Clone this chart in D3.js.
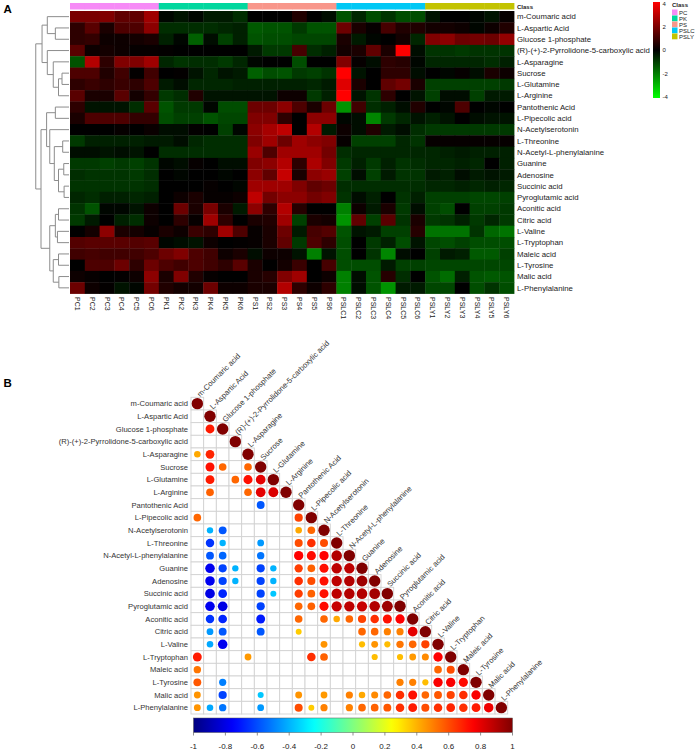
<!DOCTYPE html>
<html><head><meta charset="utf-8">
<script src="https://cdn.jsdelivr.net/npm/d3@7"></script>
<style>body{margin:0;background:#fff;} text{font-family:"Liberation Sans",Arial,sans-serif;}</style>
</head><body><svg id="c" width="700" height="752"></svg>
<script>
const metabolites = ["m-Coumaric acid","L-Aspartic Acid","Glucose 1-phosphate","(R)-(+)-2-Pyrrolidone-5-carboxylic acid","L-Asparagine","Sucrose","L-Glutamine","L-Arginine","Pantothenic Acid","L-Pipecolic acid","N-Acetylserotonin","L-Threonine","N-Acetyl-L-phenylalanine","Guanine","Adenosine","Succinic acid","Pyroglutamic acid","Aconitic acid","Citric acid","L-Valine","L-Tryptophan","Maleic acid","L-Tyrosine","Malic acid","L-Phenylalanine"];
const samples = ["PC1","PC2","PC3","PC4","PC5","PC6","PK1","PK2","PK3","PK4","PK5","PK6","PS1","PS2","PS3","PS4","PS5","PS6","PSLC1","PSLC2","PSLC3","PSLC4","PSLC5","PSLC6","PSLY1","PSLY2","PSLY3","PSLY4","PSLY5","PSLY6"];
const classes = ["PC","PK","PS","PSLC","PSLY"];
const classColors = ["#f68af6","#00d79e","#f8968a","#00c8f5","#c3c300"];
const heatTicks = [4,2,0,-2,-4];
const corrTicks = [-1,-0.8,-0.6,-0.4,-0.2,0,0.2,0.4,0.6,0.8,1];

// z-scored abundance, rows = metabolites, cols = samples
const heatValues = [
[1.9,1.9,2.0,1.5,1.5,2.5, -0.1,-0.3,-0.1,-0.4,-0.4,-0.7, 0,0,0,0.5,0,-0.2, -1.3,-0.6,-1.2,-0.8,-1.2,-1.2, -0.3,0,0,-0.1,-0.3,0.1],
[0.7,1.4,0.4,1.2,1.2,2.2, -0.7,-0.7,-0.7,-0.7,-0.6,-0.5, -1.4,-1.3,-1.3,-0.9,-1.3,-1.3, 1.7,0.4,0.1,1.1,0.5,0.5, 0.3,0.3,0.2,-0.1,0.2,0.5],
[0.7,0.8,0.2,0.2,0.3,0.4, -0.5,-0.1,-1.5,-0.2,-1.0,-0.5, -1.3,-1.2,-1.2,-1.1,-1.1,-1.1, 0.4,-0.4,-0.1,0,0.3,-0.6, 2.0,2.2,1.7,1.8,1.7,2.3],
[1.4,0.2,0.3,0.2,0.1,0.1, 0.05,0,0,0,0,0, -0.4,-0.9,-0.9,1.1,-0.7,-0.5, 0.3,0.4,1.5,0.4,4.0,-0.2, -0.8,-0.8,-0.9,-0.8,-0.8,-0.8],
[-1.3,2.8,0.7,2.0,2.0,2.5, -0.6,-0.8,-0.7,-0.7,-0.9,-0.6, -0.1,0,0,-1.2,0,0, 2.0,0.1,-0.2,0.7,0.6,-0.1, -0.6,-0.6,-0.6,-0.6,-0.7,-0.5],
[1.2,1.2,0.5,1.0,0.05,1.0, 0,0.05,-0.3,-0.6,-0.3,-0.4, -1.5,-1.2,-1.3,-0.9,-1.0,-0.8, 4.0,-0.3,0,0.7,0.7,-0.2, 0,-0.1,0.1,-0.2,0.4,0.2],
[0.7,0.9,0.7,0.9,0.7,1.2, -0.4,-0.2,-0.6,-0.6,-0.6,-0.5, -0.5,-0.5,-0.5,-0.5,-0.6,-0.4, 3.5,0.4,0,1.5,1.8,0.4, -1.0,-1.0,-1.0,-1.0,-1.0,-0.9],
[1.4,0.4,0.4,1.4,0.3,0.8, -0.9,-0.7,0.5,-0.3,-0.3,-0.3, -0.3,-0.3,0.2,0.2,-0.9,-0.5, 4.0,-0.3,-0.8,0.7,0,-0.3, -1.0,-0.2,-0.2,-1.0,-0.4,-0.4],
[0.7,-0.3,-0.3,-0.3,-0.7,1.4, -1.3,-0.9,-0.9,-0.1,-1.2,-1.2, 1.7,1.7,2.2,1.2,0.4,1.7, -2.3,1.0,-0.7,-0.5,-0.2,0.5, 0,-0.1,1.2,0,-0.1,0],
[0.4,1.2,1.2,1.2,0.8,0.8, -1.2,-1.0,-1.0,-1.3,-1.1,-1.1, 2.0,2.0,0.7,0,2.2,2.2, -0.1,-0.2,-2.1,-0.9,-0.6,-0.3, -0.5,-0.3,0,-0.2,-0.3,-0.3],
[0,0,0,0.1,0,0.15, -0.2,-0.2,0.05,0,-1.0,-0.1, 2.2,2.6,3.0,0,2.8,-0.4, 0.2,-0.2,0.5,-0.4,-0.2,-0.7, -0.9,-0.9,-0.9,-0.9,-0.9,-0.9],
[-0.9,-0.5,-0.5,-0.5,-0.5,-0.4, -0.4,-0.2,-0.6,-0.7,-0.7,-0.7, 2.0,2.5,1.7,2.5,2.2,2.0, 0.1,-1.0,-1.0,-1.0,-0.6,-0.8, 0.1,0.1,0.1,0.1,0.1,0.1],
[-0.2,-0.2,-0.3,-0.2,-0.3,0, -0.7,-0.7,-0.7,-0.7,-0.7,-0.7, 2.4,1.2,2.5,2.5,2.5,1.8, -0.7,-0.6,-0.6,-0.6,-0.6,-0.6, -0.6,-0.5,-0.4,-0.5,-0.5,-0.5],
[-0.9,-0.9,-1.0,-0.9,-1.0,-0.8, -0.1,-0.2,0.1,0,-0.2,-0.2, 2.0,2.2,2.8,0.7,2.7,2.0, -0.9,-0.5,-0.9,-0.5,-0.8,-0.7, -0.6,-0.6,-0.5,-0.6,0,-0.5],
[-0.7,-0.8,-0.8,-0.8,-0.9,-0.7, 0,-0.1,0,0,-0.1,0, 2.2,1.5,3.1,0.4,2.2,2.4, -1.0,-0.2,-1.0,-0.4,-0.8,-0.8, -0.4,-0.5,-0.2,-0.4,-0.3,-0.4],
[-0.8,-0.8,-0.8,-0.8,-0.8,-0.7, 0,0,0,0.1,0,-0.1, 2.5,2.5,2.5,2.0,1.5,1.7, -0.7,-0.7,-0.7,-0.7,-0.7,-0.7, -0.6,-0.6,-0.5,-0.6,-0.5,-0.6],
[-0.6,-0.7,-0.5,-0.5,-0.6,-0.5, 0,0.2,0.4,0.1,0.1,0.2, 3.0,1.8,2.2,2.2,1.8,2.0, -0.8,-0.2,-0.5,0,-0.8,-0.5, -1.0,-1.0,-1.0,-1.1,-1.1,-1.0],
[-0.8,-1.3,-0.1,-0.1,-0.3,0.2, 0,1.7,0.4,1.9,0.4,-0.4, 2.2,0.7,2.8,0.6,0,0, -2.0,0.2,-0.4,0.4,-0.9,-0.2, -1.0,-1.2,0,-1.0,-1.0,-0.9],
[-0.9,-0.4,0,-0.5,-0.7,0.2, 0,0.7,0.1,2.5,0.7,0, 0.4,0.5,2.5,-1.0,0.4,0.3, -2.3,1.5,-1.0,1.4,-0.8,0.4, -0.9,-0.8,-0.5,-0.9,-0.6,-0.9],
[0,0.3,2.2,0.4,0.3,0.1, 0.4,0.2,0.9,0.7,2.5,1.2, 0.1,0.4,1.7,-0.4,1.1,1.3, -1.3,-0.3,-0.4,-1.0,-1.0,0.6, -1.8,-1.8,-1.8,-0.8,-1.6,-1.8],
[1.3,1.4,1.4,1.4,1.3,1.4, -0.1,-0.2,-0.3,0.2,0,0.05, 0.1,0.4,1.5,-0.9,1.2,0.7, -1.2,0,-0.9,-0.5,-1.2,-0.3, -1.1,-1.2,-1.0,-1.2,-1.2,-1.2],
[1.0,1.1,1.0,1.0,1.0,1.2, 1.7,2.0,1.2,1.0,0.2,0.4, -0.2,0.2,0.2,-0.3,-2.0,-0.3, -1.2,0,-0.8,-2.1,-0.2,0, -1.0,-0.4,-0.5,-1.4,-1.4,-1.0],
[0,1.2,1.2,1.7,0.7,1.7, 1.2,1.0,1.2,1.0,0.7,1.4, 0.4,0,0.3,0.9,0,1.1, -1.2,-1.2,-1.2,-0.4,-1.0,-1.0, -1.1,-1.1,-1.1,-1.1,-1.1,-1.1],
[0.2,0.1,0,0.05,0.2,2.2, 0.4,2.0,0.5,0.1,0,0, 0.4,0.6,2.0,2.5,0,0.2, -2.0,-0.2,-1.3,0.6,-0.7,0, -1.3,-1.7,-0.5,-1.3,-1.4,-1.3],
[1.7,0.2,0.05,-0.3,-0.1,1.8, 0.5,0.3,0.3,1.7,0.2,0.2, 0.4,0.4,2.8,0.7,0.2,0.7, -2.0,-0.2,-1.3,-2.3,-0.4,-0.4, -1.1,-1.1,0,-1.2,-0.8,-1.2]
];

// hierarchical clustering of rows: [mergeHeight, left, right]; leaves = row index
const dendrogram = [9.5,
  [7.7,
    [6.2, 0, [3.9, 1, 2]],
    [6.2, 3, [4.5, 4, [3.0, [2.0, 5, 6], 7]]]],
  [8.0,
    [6.4, [3.9, 8, 9], [5.5, 10, [4.2, [1.8, 11, 12], [3.0, [1.5, 13, 14], [1.4, 15, 16]]]]],
    [5.5, [3.9, [3.0, 17, 18], [3.3, 19, 20]], [4.5, [3.0, 21, 22], [2.9, 23, 24]]]]];

// significant Pearson correlations, lower triangle (null = not significant)
const N = null;
const corrValues = [
[1],
[N,1],
[N,0.7,1],
[N,N,N,1],
[0.42,0.68,N,N,1],
[N,0.72,0.55,N,0.55,1],
[N,0.7,N,0.55,0.72,0.8,1],
[N,0.56,N,N,0.55,0.8,0.82,1],
[N,N,N,N,N,-0.58,N,N,1],
[0.55,N,N,N,N,N,N,N,0.62,1],
[N,-0.4,-0.58,N,N,N,N,N,0.42,0.55,1],
[N,-0.65,-0.4,N,N,-0.45,N,N,0.6,0.66,0.6,1],
[N,-0.58,-0.55,N,N,-0.52,N,N,0.75,0.73,0.75,0.9,1],
[N,-0.78,-0.62,-0.4,N,-0.62,-0.4,N,0.63,0.56,0.72,0.88,0.88,1],
[N,-0.78,-0.62,-0.4,N,-0.62,-0.4,N,0.66,0.6,0.72,0.88,0.9,0.94,1],
[N,-0.8,-0.68,N,N,-0.62,-0.36,N,0.63,0.56,0.72,0.88,0.9,0.9,0.93,1],
[N,-0.78,-0.8,N,N,-0.62,N,N,0.55,0.56,0.73,0.86,0.88,0.86,0.9,0.94,1],
[N,-0.65,-0.68,N,N,-0.7,N,N,0.55,N,0.55,0.42,0.55,0.62,0.66,0.72,0.75,1],
[N,-0.45,-0.58,N,N,-0.58,N,N,0.35,N,N,N,N,0.55,0.55,0.5,0.5,0.8,1],
[N,-0.42,-0.78,N,N,N,N,N,N,N,0.46,N,N,0.38,0.46,0.38,0.52,0.55,0.62,1],
[0.7,N,N,N,0.45,N,N,N,N,0.66,0.56,N,N,N,0.38,N,0.38,0.45,0.48,0.75,1],
[0.52,N,N,N,N,N,N,N,N,N,N,N,N,N,N,N,N,N,N,0.55,0.6,1],
[0.58,N,-0.5,N,N,N,N,N,N,N,N,N,N,N,N,N,0.5,0.5,0.38,0.76,0.76,0.73,1],
[0.46,N,-0.62,N,N,-0.36,N,N,0.46,N,0.45,N,0.5,0.42,0.48,0.55,0.66,0.72,0.55,0.58,0.62,0.66,0.76,1],
[0.46,-0.42,-0.52,N,N,-0.45,N,N,0.6,0.35,0.5,N,0.5,0.55,0.56,0.58,0.66,0.7,0.6,0.66,0.68,0.66,0.7,0.78,1]
];

const svg = d3.select("#c");
const FONT = '"Liberation Sans",Arial,sans-serif';

// ---------- Panel A ----------
svg.append("text").attr("x",3.5).attr("y",12.5).attr("font-size",11.5).attr("font-weight","bold").text("A");

const x = d3.scaleBand().domain(samples).range([70,514]);
const y = d3.scaleBand().domain(metabolites).range([11,293.5]);
const heatColor = d3.scaleLinear().domain([-4,0,4]).range(["#00ff00","#000000","#ff0000"]).clamp(true);
const classOf = s => s.replace(/\d+$/,"");
const classColor = d3.scaleOrdinal().domain(classes).range(classColors);

const gA = svg.append("g");
const cells = [];
heatValues.forEach((row,i)=>row.forEach((v,j)=>cells.push({m:metabolites[i],s:samples[j],v})));
gA.selectAll("rect.cell").data(cells).join("rect").attr("class","cell")
  .attr("x",d=>x(d.s)).attr("y",d=>y(d.m))
  .attr("width",x.bandwidth()+0.4).attr("height",y.bandwidth()+0.4)
  .attr("fill",d=>heatColor(d.v));

// class bar
gA.selectAll("rect.cls").data(samples).join("rect").attr("class","cls")
  .attr("x",d=>x(d)).attr("y",3).attr("width",x.bandwidth()+0.4).attr("height",6.5)
  .attr("fill",d=>classColor(classOf(d)));
gA.append("text").attr("x",517).attr("y",8.5).attr("font-size",6).attr("font-weight","bold").attr("fill","#222").text("Class");

// row labels
gA.selectAll("text.rl").data(metabolites).join("text").attr("class","rl")
  .attr("x",517).attr("y",d=>y(d)+y.bandwidth()/2).attr("dy","0.35em")
  .attr("font-size",7.8).attr("fill","#222").text(d=>d);

// column labels
gA.selectAll("text.cl").data(samples).join("text").attr("class","cl")
  .attr("transform",d=>`translate(${x(d)+x.bandwidth()/2},297) rotate(90)`)
  .attr("dy","0.35em").attr("font-size",7).attr("fill","#222").text(d=>d);

// dendrogram
const dx = d3.scaleLinear().domain([0,10]).range([69,34]);
const segs = [];
function lay(node){
  if (typeof node === "number") return {y:y(metabolites[node])+y.bandwidth()/2, h:0};
  const [h,a,b] = node;
  const A = lay(a), B = lay(b);
  segs.push([dx(h),A.y,dx(h),B.y]);
  segs.push([dx(h),A.y,dx(A.h),A.y]);
  segs.push([dx(h),B.y,dx(B.h),B.y]);
  return {y:(A.y+B.y)/2, h};
}
lay(dendrogram);
gA.selectAll("line.dg").data(segs).join("line").attr("class","dg")
  .attr("x1",d=>d[0]).attr("y1",d=>d[1]).attr("x2",d=>d[2]).attr("y2",d=>d[3])
  .attr("stroke","#8c8c8c").attr("stroke-width",1);

// heat legend
const defs = svg.append("defs");
const lg = defs.append("linearGradient").attr("id","hg").attr("x1",0).attr("y1",1).attr("x2",0).attr("y2",0);
[-4,0,4].forEach(v=>lg.append("stop").attr("offset",(v+4)/8).attr("stop-color",heatColor(v)));
svg.append("rect").attr("x",653).attr("y",2).attr("width",7).attr("height",96).attr("fill","url(#hg)");
const ly = d3.scaleLinear().domain([4,-4]).range([3.5,97]);
svg.selectAll("text.hl").data(heatTicks).join("text").attr("class","hl")
  .attr("x",662.5).attr("y",d=>ly(d)).attr("dy","0.35em").attr("font-size",6).attr("fill","#222").text(d=>d);

svg.append("text").attr("x",672).attr("y",7).attr("font-size",6).attr("font-weight","bold").attr("fill","#222").text("Class");
svg.selectAll("rect.lsw").data(classes).join("rect").attr("class","lsw")
  .attr("x",672).attr("y",(d,i)=>9.5+6*i).attr("width",5.5).attr("height",5.8).attr("fill",d=>classColor(d));
svg.selectAll("text.lsl").data(classes).join("text").attr("class","lsl")
  .attr("x",679).attr("y",(d,i)=>12.4+6*i).attr("dy","0.35em").attr("font-size",6).attr("fill","#222").text(d=>d);

// ---------- Panel B ----------
svg.append("text").attr("x",3.5).attr("y",386.5).attr("font-size",11.5).attr("font-weight","bold").text("B");

const cx = d3.scaleBand().domain(metabolites).range([191,507.7]);
const cy = d3.scaleBand().domain(metabolites).range([397.3,714]);
const bw = cx.bandwidth();
const jet = t => {
  const c = v => Math.max(0,Math.min(1,v));
  const r = c(1.5-Math.abs(4*t-3)), g = c(1.5-Math.abs(4*t-2)), b = c(1.5-Math.abs(4*t-1));
  return d3.rgb(r*255,g*255,b*255).formatHex();
};
const corrColor = v => jet((v+1)/2);
const rScale = d3.scaleLinear().domain([0,1]).range([1.5,5.7]);

const gB = svg.append("g");
const grid = [], dots = [];
corrValues.forEach((row,i)=>row.forEach((v,j)=>{
  grid.push({i,j});
  if (v !== null) dots.push({i,j,v});
}));
gB.selectAll("rect.g").data(grid).join("rect").attr("class","g")
  .attr("x",d=>cx(metabolites[d.j])).attr("y",d=>cy(metabolites[d.i]))
  .attr("width",bw).attr("height",cy.bandwidth())
  .attr("fill","#fff").attr("stroke","#d2d2d2").attr("stroke-width",0.9);
gB.selectAll("circle").data(dots).join("circle")
  .attr("cx",d=>cx(metabolites[d.j])+bw/2).attr("cy",d=>cy(metabolites[d.i])+cy.bandwidth()/2)
  .attr("r",d=>rScale(Math.abs(d.v))).attr("fill",d=>corrColor(d.v));

gB.selectAll("text.crl").data(metabolites).join("text").attr("class","crl")
  .attr("x",188).attr("y",d=>cy(d)+cy.bandwidth()/2).attr("dy","0.35em").attr("text-anchor","end")
  .attr("font-size",7.6).attr("fill","#333").text(d=>d);
gB.selectAll("text.cdl").data(metabolites).join("text").attr("class","cdl")
  .attr("transform",d=>`translate(${cx(d)+bw/2+1},${cy(d)-2}) rotate(-45)`)
  .attr("dy","0.35em").attr("font-size",7.6).attr("fill","#333").text(d=>d);

// colorbar
const cb = d3.scaleLinear().domain([-1,1]).range([193.5,512.5]);
const cg = defs.append("linearGradient").attr("id","cg");
d3.range(0,1.0001,0.02).forEach(t=>cg.append("stop").attr("offset",t).attr("stop-color",jet(t)));
svg.append("rect").attr("x",cb(-1)).attr("y",718).attr("width",cb(1)-cb(-1)).attr("height",14.5)
  .attr("fill","url(#cg)").attr("stroke","#555").attr("stroke-width",0.5);
svg.selectAll("line.ct").data(corrTicks).join("line").attr("class","ct")
  .attr("x1",d=>cb(d)).attr("x2",d=>cb(d)).attr("y1",732.5).attr("y2",735.5).attr("stroke","#444").attr("stroke-width",0.6);
svg.selectAll("text.ctl").data(corrTicks).join("text").attr("class","ctl")
  .attr("x",d=>cb(d)).attr("y",748.5).attr("text-anchor","middle").attr("font-size",8).attr("fill","#222").text(d=>String(d));
</script></body></html>
